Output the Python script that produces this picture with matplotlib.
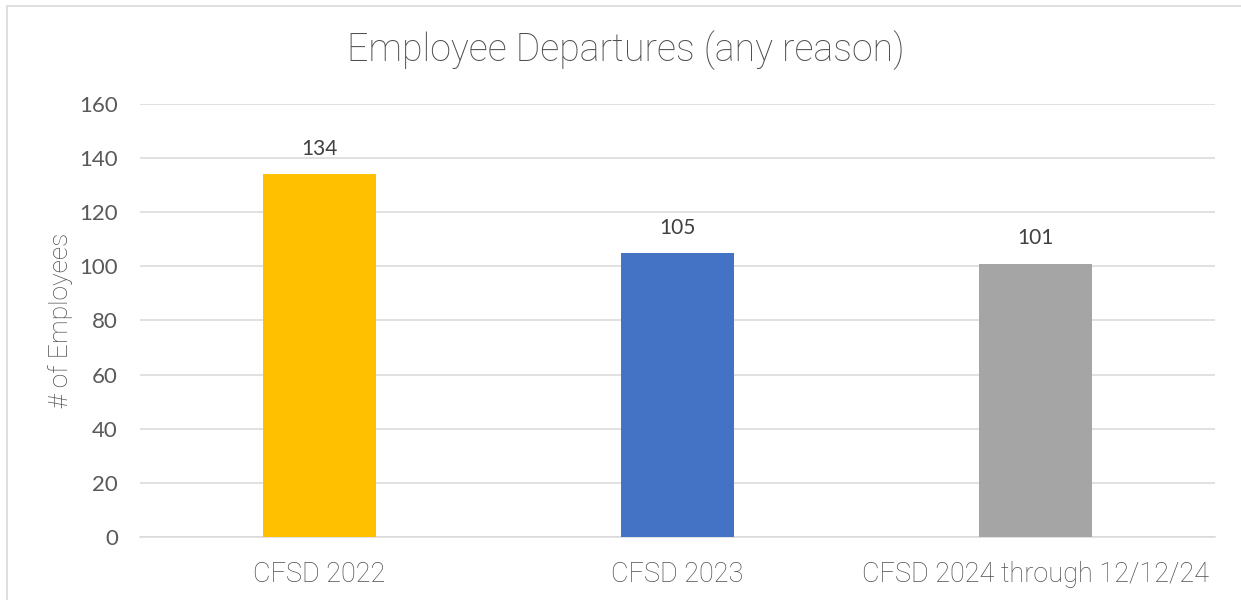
import matplotlib
matplotlib.use("Agg")
import matplotlib.pyplot as plt
from matplotlib.patches import Rectangle

# departures per year
categories = ["CFSD 2022", "CFSD 2023", "CFSD 2024 through 12/12/24"]
departures = [134, 105, 101]
bar_colors = ["#FFC000", "#4472C4", "#A5A5A5"]
yticks = [0, 20, 40, 60, 80, 100, 120, 140, 160]

TEXT = "#595959"
THIN = "#4f4f4f"   # light-weight text reads paler, so give it a touch more ink
LABEL = "#404040"
GRID = "#D9D9D9"

fig = plt.figure(figsize=(12.41, 6.0), dpi=100)
ax = fig.add_axes([0.1128, 0.105, 0.979 - 0.1128, 0.8267 - 0.105])

x = range(len(categories))
bars = ax.bar(x, departures, width=0.315, color=bar_colors, zorder=3)

ax.set_xlim(-0.5, len(categories) - 0.5)
ax.set_ylim(0, 160)
ax.set_yticks(yticks)
ax.set_yticklabels([str(t) for t in yticks], family="Lato", fontsize=16,
                   color=TEXT)
ax.set_xticks(list(x))
ax.set_xticklabels(categories, family="Roboto", fontweight="light",
                   fontsize=19.5, color=THIN)
ax.tick_params(axis="both", length=0)
ax.tick_params(axis="y", pad=16)
ax.tick_params(axis="x", pad=17)

ax.grid(axis="y", color=GRID, lw=1.1, zorder=0)
for s in ("top", "right", "left"):
    ax.spines[s].set_visible(False)
ax.spines["bottom"].set_color(GRID)
ax.spines["bottom"].set_linewidth(1.1)

for b, v in zip(bars, departures):
    ax.annotate(str(v), (b.get_x() + b.get_width() / 2, v),
                textcoords="offset points", xytext=(0, 11), ha="center",
                va="bottom", family="Lato", fontsize=15, color=LABEL)

ax.set_ylabel("# of Employees", family="Roboto", fontweight="light",
              fontsize=19, color=THIN, labelpad=4)

fig.text(0.5045, 0.917, "Employee Departures (any reason)", ha="center",
         va="center", family="Roboto", fontweight="light", fontsize=27,
         color=THIN)

# light chart frame, running off the right and bottom edges
fig.patches.append(Rectangle((0.0056, -0.05), 1.1, 1.04, fill=False,
                             edgecolor=GRID, lw=1.2,
                             transform=fig.transFigure, figure=fig))

fig.savefig("out.png", dpi=100)
